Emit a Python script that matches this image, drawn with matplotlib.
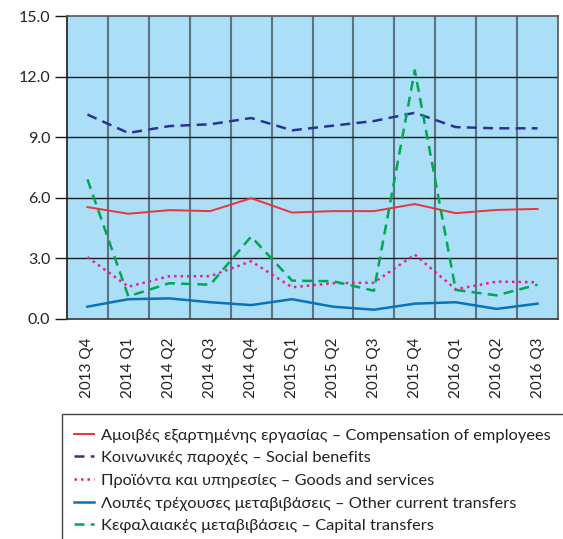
import matplotlib
matplotlib.use("Agg")
import matplotlib.pyplot as plt
from matplotlib.patches import Rectangle
import numpy as np

plt.rcParams['font.family'] = ['Lato', 'DejaVu Sans']

categories = ["2013 Q4", "2014 Q1", "2014 Q2", "2014 Q3", "2014 Q4", "2015 Q1",
              "2015 Q2", "2015 Q3", "2015 Q4", "2016 Q1", "2016 Q2", "2016 Q3"]
compensation = [5.54, 5.21, 5.39, 5.34, 5.98, 5.27, 5.34, 5.34, 5.69, 5.24, 5.40, 5.45]
social = [10.12, 9.21, 9.55, 9.64, 9.95, 9.34, 9.57, 9.80, 10.21, 9.50, 9.44, 9.44]
goods = [3.06, 1.60, 2.12, 2.12, 2.86, 1.57, 1.77, 1.80, 3.19, 1.47, 1.85, 1.82]
other = [0.61, 0.98, 1.02, 0.83, 0.69, 0.98, 0.61, 0.46, 0.76, 0.83, 0.50, 0.76]
capital = [6.91, 1.12, 1.77, 1.70, 4.08, 1.90, 1.87, 1.40, 12.31, 1.44, 1.17, 1.70]

labels = ["Αμοιβές εξαρτημένης εργασίας – Compensation of employees",
          "Κοινωνικές παροχές – Social benefits",
          "Προϊόντα και υπηρεσίες – Goods and services",
          "Λοιπές τρέχουσες μεταβιβάσεις – Other current transfers",
          "Κεφαλαιακές μεταβιβάσεις – Capital transfers"]
yticks = [0, 3, 6, 9, 12, 15]

W, H = 563, 539
fig = plt.figure(figsize=(W/100, H/100), dpi=100)
ax = fig.add_axes([67/W, 1-319/H, (558-67)/W, (319-16)/H])
ax.set_facecolor('#ABDFF8')

x = np.arange(len(categories))
ax.set_xlim(-0.5, len(categories)-0.5)
ax.set_ylim(0, 15)

for b in np.arange(0.5, len(categories)-0.5, 1):
    ax.axvline(b, color='#5E7382', lw=1.5, zorder=1)
for yv in yticks[1:-1]:
    ax.axhline(yv, color='#1a1a1a', lw=1.0, zorder=1)

h1, = ax.plot(x, compensation, color='#EE3338', lw=1.4, zorder=3)
h2, = ax.plot(x, social, color='#2E3192', lw=1.8, ls=(0, (4, 2.5)), zorder=3)
h3, = ax.plot(x, goods, color='#EC1C8C', lw=1.8, ls=(0, (1, 1.6)), zorder=3)
h4, = ax.plot(x, other, color='#0A72BA', lw=1.8, zorder=3)
h5, = ax.plot(x, capital, color='#00A651', lw=1.8, ls=(0, (4, 2.5)), zorder=3)

ax.set_yticks(yticks)
ax.set_yticklabels([f"{v:.1f}" for v in yticks], fontsize=11.5, color='#222222')
ax.tick_params(axis='y', direction='out', length=9, width=1.0, color='#1a1a1a', pad=3)
ax.set_xticks(x)
ax.set_xticklabels(categories, rotation=90, fontsize=11, color='#222222')
ax.tick_params(axis='x', length=0, pad=13)

ax.spines['left'].set_color('#1a1a1a')
ax.spines['bottom'].set_color('#333333')
ax.spines['top'].set_color('#555555')
ax.spines['right'].set_color('#555555')
for s in ax.spines.values():
    s.set_linewidth(1.2)

# legend frame extending beyond the figure
fig.patches.append(Rectangle((62/W, -0.1), 1.0, (0.1 + 1 - 414/H),
                             transform=fig.transFigure, fill=False,
                             edgecolor='#444444', lw=1.0))
leg = fig.legend([h1, h2, h3, h4, h5], labels, loc='upper left',
                 bbox_to_anchor=(74/W, 1-428/H), frameon=False,
                 fontsize=11.8, handlelength=1.2, handletextpad=0.45,
                 labelspacing=0.5, borderaxespad=0, borderpad=0)
for t in leg.get_texts():
    t.set_color('#222222')

fig.savefig('out.png', dpi=100)
